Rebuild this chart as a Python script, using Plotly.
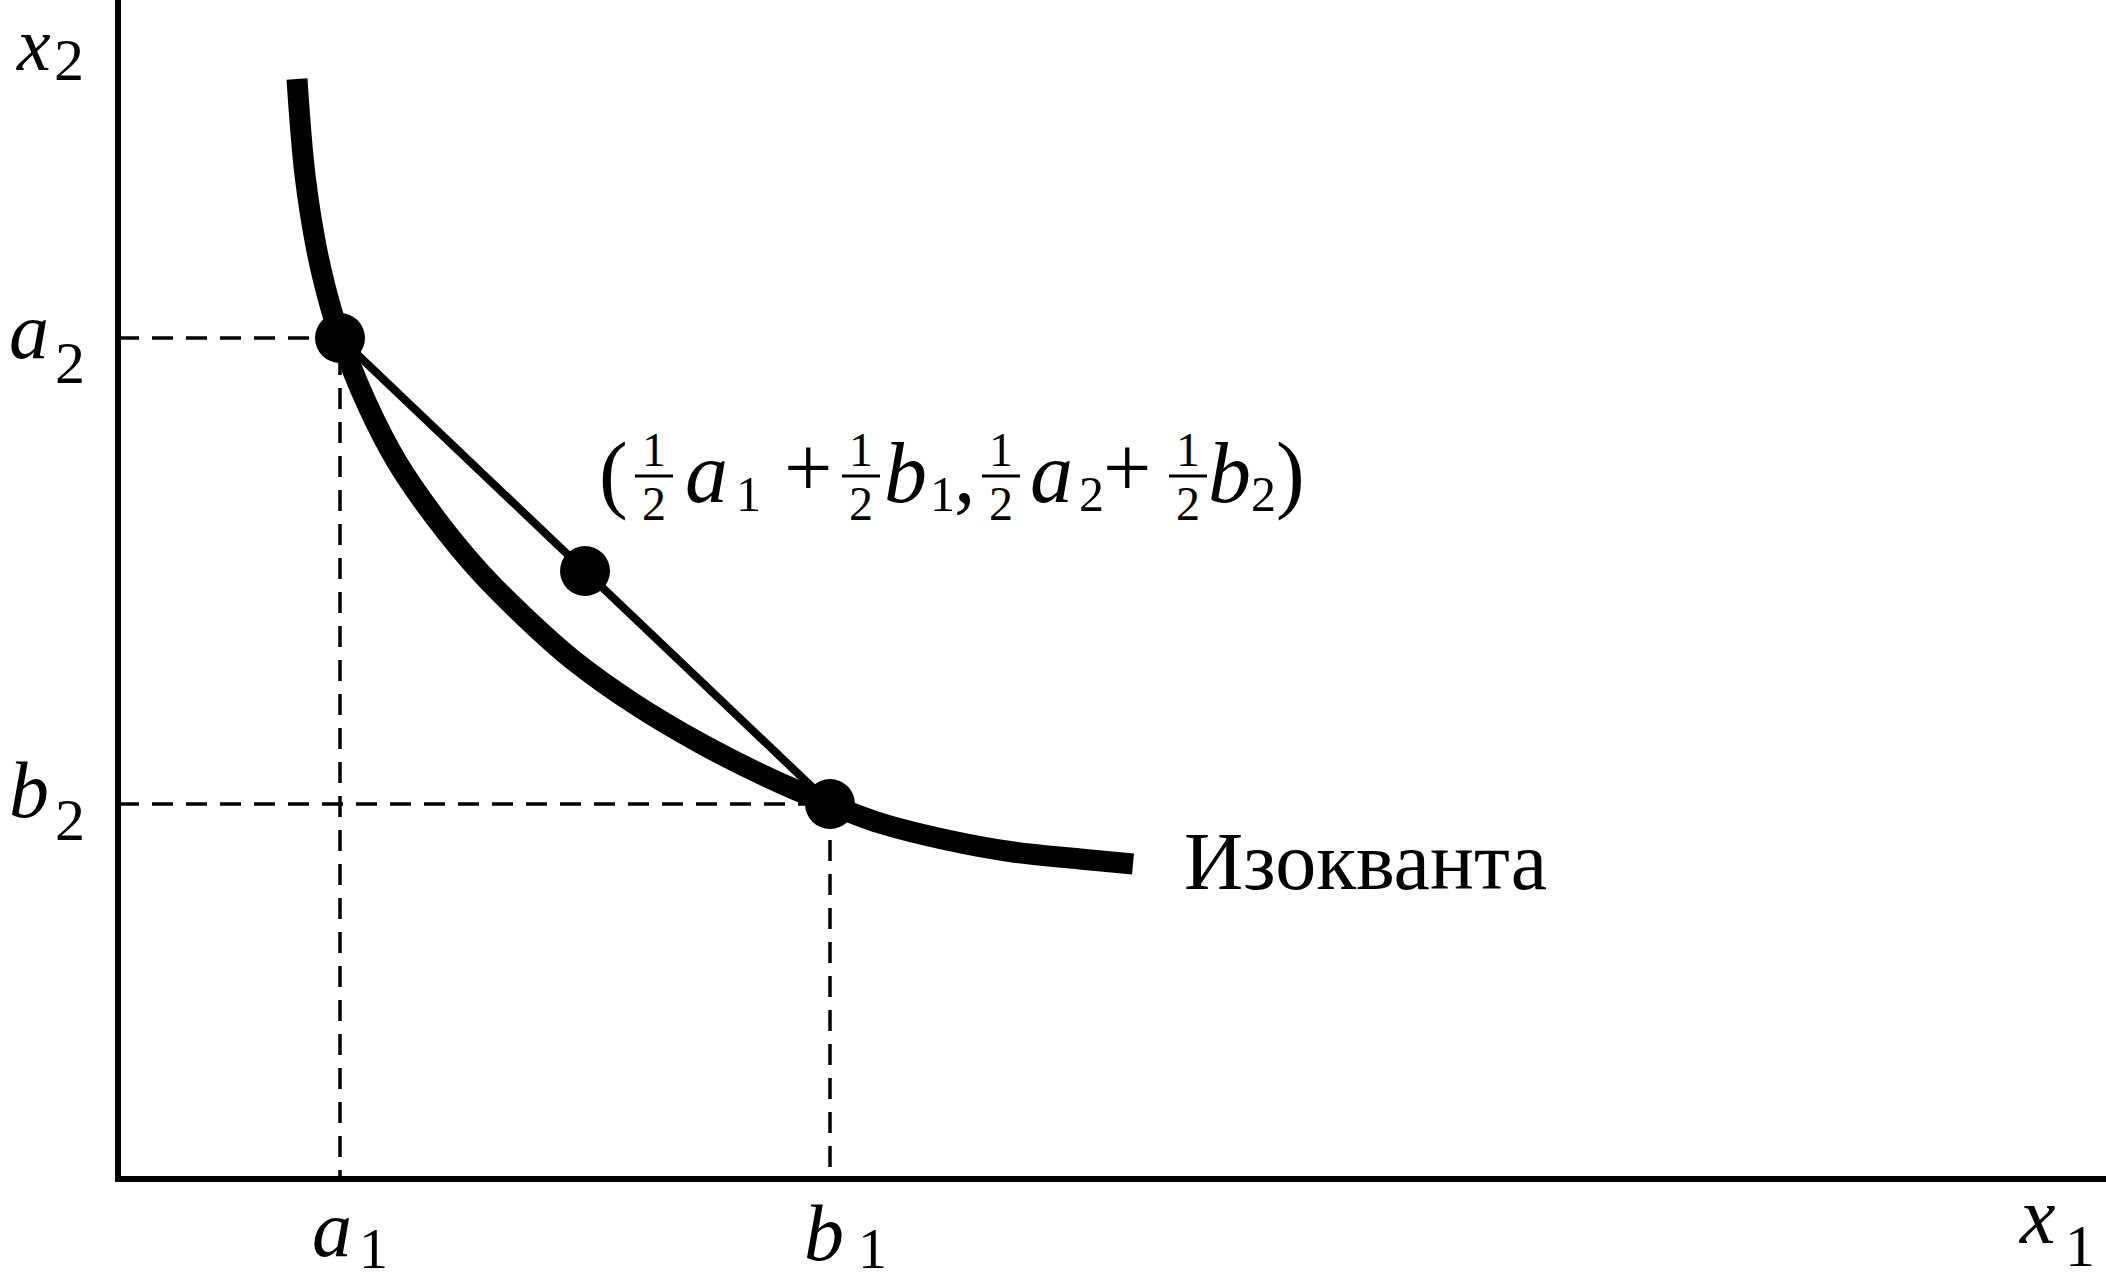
import plotly.graph_objects as go

# ---------------- data ----------------
# Isoquant curve (arbitrary units)
iso_x = [179, 187, 199, 212, 222, 249, 279, 319, 362, 412, 455, 515, 582, 649, 709, 762, 829, 895, 962, 1015]
iso_y = [1099, 1003, 927, 873, 841, 774, 716, 658, 606, 556, 518, 475, 435, 401, 375, 355, 338, 326, 319, 314]

# The two input bundles a = (a1, a2), b = (b1, b2)
bundle_a = [222, 840]
bundle_b = [712, 374]
weight = 0.5  # convex combination 1/2 a + 1/2 b

# axis / text labels
x_axis_label = ["x", "1"]
y_axis_label = ["x", "2"]
a1_label = ["a", "1"]
a2_label = ["a", "2"]
b1_label = ["b", "1"]
b2_label = ["b", "2"]
curve_label = "Изокванта"

# ---------------- layout ----------------
W, H = 2106, 1282
ML, MB = 121, 106
PW, PH = W - ML, H - MB
OX, OY = 118, 1178   # pixel position of the data origin
FONT = "Liberation Serif"

mid = [weight * bundle_a[0] + (1 - weight) * bundle_b[0],
       weight * bundle_a[1] + (1 - weight) * bundle_b[1]]

fig = go.Figure()

# dashed guides
for p in (bundle_a, bundle_b):
    fig.add_trace(go.Scatter(
        x=[0, p[0], p[0]], y=[p[1], p[1], 0], mode="lines",
        line=dict(color="black", width=3.5, dash="21px,13px"),
        hoverinfo="skip", showlegend=False))

# isoquant
fig.add_trace(go.Scatter(
    x=iso_x, y=iso_y, mode="lines",
    line=dict(color="black", width=21, shape="spline", smoothing=1.0),
    hoverinfo="skip", showlegend=False))

# chord
fig.add_trace(go.Scatter(
    x=[bundle_a[0], mid[0], bundle_b[0]], y=[bundle_a[1], mid[1], bundle_b[1]],
    mode="lines", line=dict(color="black", width=8),
    hoverinfo="skip", showlegend=False))

# points
fig.add_trace(go.Scatter(
    x=[bundle_a[0], mid[0], bundle_b[0]], y=[bundle_a[1], mid[1], bundle_b[1]],
    mode="markers", marker=dict(color="black", size=50, line=dict(width=0)),
    hoverinfo="skip", showlegend=False))


def PX(px):
    return (px - ML) / PW


def PY(py):
    return (H - MB - py) / PH


annotations = []
shapes = []


def txt(s, px, py, size, italic=False, xanchor="center", yanchor="middle"):
    annotations.append(dict(
        text=s, x=PX(px), y=PY(py), xref="paper", yref="paper", showarrow=False,
        xanchor=xanchor, yanchor=yanchor, borderpad=0,
        font=dict(family=FONT, size=size, color="black",
                  style="italic" if italic else "normal")))


LET = 80
SUB = 60

# axis labels
txt(y_axis_label[0], 33, 1, 76, True, yanchor="top")
txt(y_axis_label[1], 69, 60, SUB)
txt(x_axis_label[0], 2037, 1216, LET, True)
txt(x_axis_label[1], 2080, 1246, SUB)

# tick-like labels
txt(a2_label[0], 29, 331, LET, True)
txt(a2_label[1], 70, 363, SUB)
txt(b2_label[0], 29, 790, LET, True)
txt(b2_label[1], 70, 820, SUB)
txt(a1_label[0], 332, 1229, LET, True)
txt(a1_label[1], 373, 1248, 58)
txt(b1_label[0], 824, 1233, LET, True)
txt(b1_label[1], 872, 1248, 58)

# curve label
txt(curve_label, 1183, 861, 82, False, "left")

# formula (1/2 a1 + 1/2 b1, 1/2 a2 + 1/2 b2)
FM = 86
FS = 50
FF = 48
base_c = 473
sub_c = 494
txt("(", 613, base_c, FM)


def frac(cx):
    txt("1", cx, 449, FF)
    txt("2", cx, 503, FF)
    shapes.append(dict(type="line", xref="paper", yref="paper",
                       x0=PX(cx - 19), x1=PX(cx + 19), y0=PY(476), y1=PY(476),
                       line=dict(color="black", width=3)))


frac(654)
txt("a", 706, base_c, FM, True)
txt("1", 748, sub_c, FS)
txt("+", 808, 468, FM)
frac(861)
txt("b", 905, base_c, FM, True)
txt("1", 942, sub_c, FS)
txt(",", 965, base_c, FM)
frac(1001)
txt("a", 1051, base_c, FM, True)
txt("2", 1091, sub_c, FS)
txt("+", 1127, 468, FM)
frac(1188)
txt("b", 1229, base_c, FM, True)
txt("2", 1263, sub_c, FS)
txt(")", 1290, base_c, FM)

fig.update_layout(
    width=W, height=H,
    margin=dict(l=ML, r=0, t=0, b=MB, pad=0),
    paper_bgcolor="white", plot_bgcolor="white",
    showlegend=False,
    annotations=annotations, shapes=shapes,
    xaxis=dict(range=[ML - OX, ML - OX + PW], showline=True, linewidth=6,
               linecolor="black", showgrid=False, zeroline=False,
               showticklabels=False, ticks="", fixedrange=True),
    yaxis=dict(range=[OY - (H - MB), OY], showline=True, linewidth=6,
               linecolor="black", showgrid=False, zeroline=False,
               showticklabels=False, ticks="", fixedrange=True),
)

fig.write_html("out.html", config={"displayModeBar": False},
               post_script="document.body.style.margin='0px';")
